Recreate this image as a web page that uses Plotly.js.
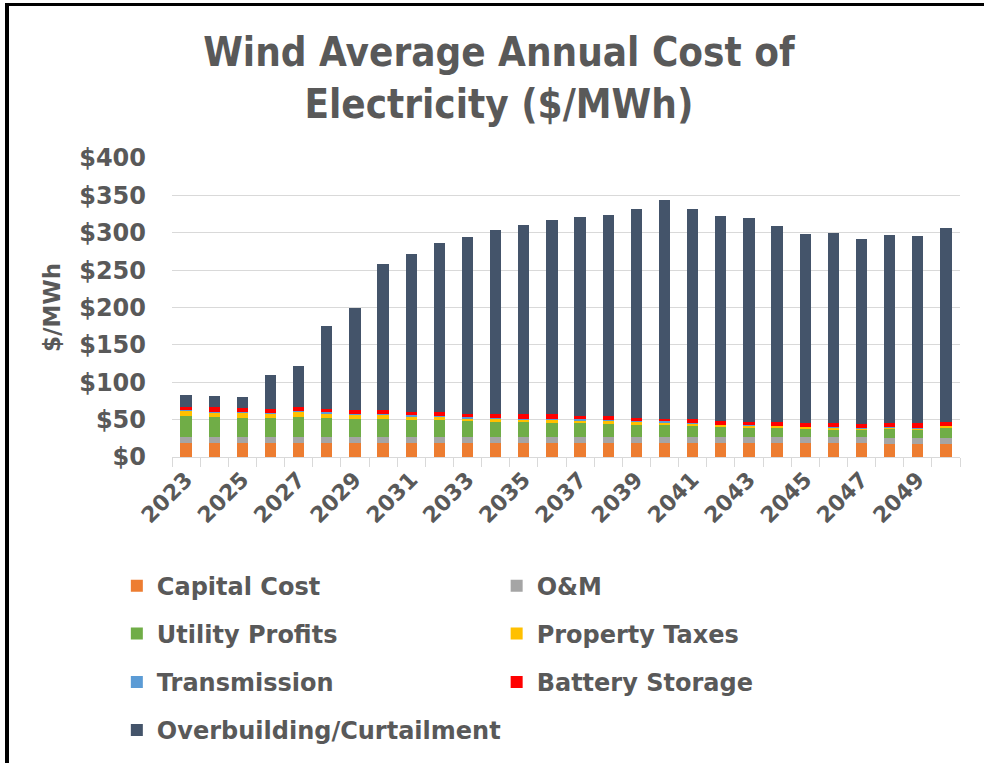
<!DOCTYPE html>
<html><head><meta charset="utf-8">
<script src="https://cdn.plot.ly/plotly-3.0.1.min.js"></script>
<style>
html,body{margin:0;padding:0;background:#fff;overflow:hidden;width:984px;height:764px;}
#chart{position:absolute;left:0;top:0;width:984px;height:764px;}
#frame{position:absolute;left:5px;top:3px;width:975px;height:757px;border-left:4px solid #000;border-top:3px solid #000;pointer-events:none;}
</style></head>
<body>
<div id="chart"></div>
<div id="frame"></div>
<script>
const years = ["2023","2024","2025","2026","2027","2028","2029","2030","2031","2032","2033","2034","2035","2036","2037","2038","2039","2040","2041","2042","2043","2044","2045","2046","2047","2048","2049","2050"];
const capitalCost   = [19,19,19,19,19,19,19,19,19,19,19,19,19,19,19,19,19,19,19,19,19,19,19,19,19,18,17.6,17.6];
const om            = [7.4,7.4,7.4,7.4,7.4,7.4,7.4,7.4,7.4,7.4,7.4,7.4,7.4,7.4,7.4,7.4,7.4,7.4,7.4,7.4,7.4,7.4,7.4,7.4,7.4,7.5,7.6,7.5];
const utilityProfits= [29.1,27.3,25.6,26,27.3,25.6,24.3,24.3,22.9,22.9,21.6,20.3,20.3,19,19,18.1,16.3,15.9,15,13.2,12.8,11.9,11,10.2,9.6,11.9,10.8,14.1];
const propertyTaxes = [5.7,5.8,7,5.6,6.3,6,6.1,5.7,4.7,4,3.5,3.5,3.1,3.9,3.1,4,4,2.7,2.6,2.7,2.6,2.7,2.2,2.6,1.4,1.8,1.9,2.2];
const transmission  = [1.3,1.3,1.3,1,1.2,2,0.9,1,2,1.7,1.8,1.8,1.2,1.4,1.7,0.8,0.9,2.6,1.4,0.9,0.9,0.8,0.9,0.8,0.8,0.8,0.7,0.6];
const batteryStorage= [4,6.2,4.9,5,5.8,4,4.9,5.2,4.8,5,4.7,6,6.3,6.6,5.3,4.9,4.8,3.9,4.8,4.8,4.4,5.3,4.9,5,5.8,5.4,6.3,4.7];
const overbuilding  = [16.5,14.5,14.8,46,54.7,111.5,136.2,195.4,210.2,225.7,236.5,245.4,253.1,259.3,265.5,269.5,280,292.5,282.2,274.3,272.1,261.9,253.6,255.3,248,252.2,251.4,259.3];
const seriesNames = ["Capital Cost","O&M","Utility Profits","Property Taxes","Transmission","Battery Storage","Overbuilding/Curtailment"];
const yTickVals = [0,50,100,150,200,250,300,350,400];
const yTickText = ["$0","$50","$100","$150","$200","$250","$300","$350","$400"];
const xTickText = years.map((y,i)=> i%2===0 ? y : "");

const seriesValues = [capitalCost, om, utilityProfits, propertyTaxes, transmission, batteryStorage, overbuilding];
const colors = ["#ED7D31","#A5A5A5","#70AD47","#FFC000","#5B9BD5","#FF0000","#44546A"];
const legendIds = ["legend","legend2","legend3","legend4","legend5","legend6","legend7"];

const FONT = "DejaVu Sans, Arial, sans-serif";
const TXT = "#595959";

const traces = seriesValues.map((vals,i)=>({
  type:"bar", x:years, y:vals, name:seriesNames[i],
  marker:{color:colors[i], line:{width:0}},
  legend: legendIds[i],
  hoverinfo:"x+y+name"
}));

const legendPos = [
  [-0.07, -0.432], [0.412, -0.432],
  [-0.07, -0.592], [0.412, -0.592],
  [-0.07, -0.754], [0.412, -0.754],
  [-0.07, -0.914]
];
const layout = {
  width:984, height:764,
  margin:{l:172, r:24, t:158, b:303},
  paper_bgcolor:"#fff", plot_bgcolor:"#fff",
  barmode:"stack", bargap:0.6,
  title:{text:"Wind Average Annual Cost of<br>Electricity ($/MWh)", x:0.507, xref:"container", y:0.914, yref:"container", yanchor:"top",
         font:{family:"DejaVu Sans Condensed, DejaVu Sans, sans-serif", size:40, color:TXT, weight:"bold"}},
  xaxis:{type:"category", tickmode:"array", tickvals:years, ticktext:xTickText, tickangle:-45,
         tickson:"boundaries", ticks:"outside", ticklen:9, tickcolor:"#d9d9d9",
         showline:true, linecolor:"#d9d9d9", linewidth:1, showgrid:false,
         tickfont:{family:FONT, size:22, color:TXT, weight:"bold"}},
  yaxis:{range:[0,400], tickmode:"array", tickvals:yTickVals, ticktext:yTickText,
         showgrid:true, gridcolor:"#d9d9d9", gridwidth:1, zeroline:false, showline:false,
         ticks:"", ticklabelstandoff:25,
         tickfont:{family:FONT, size:24, color:TXT, weight:"bold"}},
  showlegend:true
};
layout.yaxis.title = {text:"$/MWh", standoff:12, font:{family:FONT, size:23, color:TXT, weight:"bold"}};
legendIds.forEach((id,i)=>{
  layout[id] = {x:legendPos[i][0], y:legendPos[i][1], xanchor:"left", yanchor:"middle",
    bgcolor:"rgba(0,0,0,0)", borderwidth:0,
    font:{family:FONT, size:24, color:TXT, weight:"bold"}};
});
Plotly.newPlot("chart", traces, layout, {staticPlot:true, displayModeBar:false});
</script>
</body></html>
